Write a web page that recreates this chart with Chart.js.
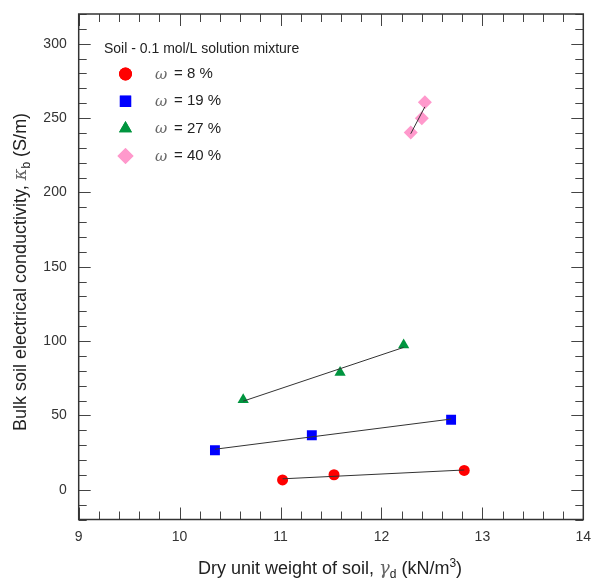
<!DOCTYPE html>
<html>
<head>
<meta charset="utf-8">
<script src="https://cdn.jsdelivr.net/npm/chart.js@4.4.0/dist/chart.umd.min.js"></script>
<style>
html, body { margin: 0; padding: 0; background: #fff; }
#wrap { width: 592px; height: 581px; }
</style>
</head>
<body>
<div id="wrap"><canvas id="chart"></canvas></div>
<script>
// ---------- data ----------
const seriesLabels = ['8 %', '19 %', '27 %', '40 %'];
const xW8  = [11.02, 11.53, 12.82];
const yW8  = [6.6, 10.1, 13.0];
const xW19 = [10.35, 11.31, 12.69];
const yW19 = [26.6, 36.7, 47.1];
const xW27 = [10.63, 11.59, 12.22];
const yW27 = [60.6, 78.9, 97.3];
const xW40 = [12.29, 12.40, 12.43];
const yW40 = [240.3, 249.8, 260.6];

const xTicks = [9, 10, 11, 12, 13, 14];
const yTicks = [0, 50, 100, 150, 200, 250, 300];

const FONT = '"Liberation Sans", Arial, sans-serif';

// ---------- helpers ----------
function pts(xs, ys) {
    return xs.map((x, i) => ({x: x, y: ys[i]}));
}

// least squares line, drawn between the smallest and largest x
function fitLine(xs, ys) {
    const n = xs.length;
    const mx = xs.reduce((a, b) => a + b, 0) / n;
    const my = ys.reduce((a, b) => a + b, 0) / n;
    let sxy = 0, sxx = 0;
    for (let i = 0; i < n; i++) {
        sxy += (xs[i] - mx) * (ys[i] - my);
        sxx += (xs[i] - mx) * (xs[i] - mx);
    }
    const b = sxy / sxx, a = my - b * mx;
    const x0 = Math.min(...xs), x1 = Math.max(...xs);
    return [{x: x0, y: a + b * x0}, {x: x1, y: a + b * x1}];
}

function fitSet(xs, ys) {
    return {
        type: 'line', data: fitLine(xs, ys), order: 0,
        borderColor: '#333', borderWidth: 1, pointRadius: 0, fill: false,
        isFit: true
    };
}

function markerSet(label, xs, ys, style, color, r) {
    return {
        type: 'scatter', label: label, data: pts(xs, ys), order: 1,
        pointStyle: style, pointRadius: r, pointHoverRadius: r,
        backgroundColor: color, borderColor: color, borderWidth: 0
    };
}

// draws a run of text pieces (regular / greek italic / sub / sup)
function drawRich(ctx, parts, x, y) {
    let w = 0;
    parts.forEach(p => { ctx.font = p.f; w += ctx.measureText(p.t).width; });
    let cx = x - w / 2;
    ctx.textAlign = 'left';
    ctx.textBaseline = 'alphabetic';
    parts.forEach(p => {
        ctx.font = p.f;
        ctx.fillStyle = p.c || '#222';
        ctx.fillText(p.t, cx, y + (p.dy || 0));
        cx += ctx.measureText(p.t).width;
    });
}

// no extra room for first/last labels, the layout padding alone sets the box
function noPad(s) {
    s.paddingLeft = 0; s.paddingRight = 0; s.paddingTop = 0; s.paddingBottom = 0;
}

// ---------- plugins ----------
const frame = {
    id: 'frame',
    beforeDatasetsDraw(chart) {
        const {ctx, chartArea: a, scales} = chart;
        const xs = scales.x, ys = scales.y;
        ctx.save();
        ctx.strokeStyle = '#444';
        ctx.lineWidth = 1;
        ctx.beginPath();
        for (let v = 9; v <= 14.001; v += 0.2) {
            const px = Math.round(xs.getPixelForValue(v)) + 0.5;
            const major = Math.abs(v - Math.round(v)) < 1e-6;
            const len = major ? 12 : 8;
            ctx.moveTo(px, a.bottom); ctx.lineTo(px, a.bottom - len);
            ctx.moveTo(px, a.top); ctx.lineTo(px, a.top + len);
        }
        for (let v = -20; v <= 320; v += 10) {
            const py = Math.round(ys.getPixelForValue(v)) + 0.5;
            const major = v % 50 === 0;
            const len = major ? 12 : 8;
            ctx.moveTo(a.left, py); ctx.lineTo(a.left + len, py);
            ctx.moveTo(a.right, py); ctx.lineTo(a.right - len, py);
        }
        ctx.stroke();
        ctx.lineWidth = 1.5;
        ctx.strokeStyle = '#333';
        ctx.strokeRect(a.left, a.top, a.right - a.left, a.bottom - a.top);
        ctx.restore();
    }
};

const decorations = {
    id: 'decorations',
    afterDraw(chart) {
        const ctx = chart.ctx;
        ctx.save();
        // legend box
        ctx.font = '14px ' + FONT;
        ctx.fillStyle = '#222';
        ctx.textAlign = 'left';
        ctx.textBaseline = 'middle';
        ctx.fillText('Soil - 0.1 mol/L solution mixture', 104, 49);
        const sets = chart.data.datasets.filter(d => !d.isFit);
        sets.forEach((d, i) => {
            const y = 74 + i * 27.3;
            ctx.fillStyle = d.backgroundColor;
            ctx.strokeStyle = d.borderColor;
            ctx.lineWidth = 0;
            Chart.helpers.drawPoint(ctx, {pointStyle: d.pointStyle, radius: d.pointRadius + 1, rotation: 0, borderWidth: 0}, 125.5, y);
            ctx.fill();
            ctx.textBaseline = 'middle';
            ctx.font = 'italic 15px "DejaVu Serif", serif';
            ctx.fillStyle = '#666';
            ctx.fillText('\u03c9', 155, y + 1);
            ctx.font = '15px ' + FONT;
            ctx.fillStyle = '#222';
            ctx.fillText('= ' + d.label, 174, y);
        });

        // axis titles
        const reg = '18px ' + FONT;
        const grk = 'italic 18px "DejaVu Serif", serif';
        const small = '12px ' + FONT;
        drawRich(ctx, [
            {t: 'Dry unit weight of soil, ', f: reg},
            {t: '\u03b3', f: grk, c: '#666'},
            {t: 'd', f: small, dy: 4},
            {t: ' (kN/m', f: reg},
            {t: '3', f: small, dy: -7},
            {t: ')', f: reg}
        ], 330, 574);

        ctx.translate(26, 272);
        ctx.rotate(-Math.PI / 2);
        drawRich(ctx, [
            {t: 'Bulk soil electrical conductivity, ', f: reg},
            {t: '\u03ba', f: grk, c: '#666'},
            {t: 'b', f: small, dy: 4},
            {t: ' (S/m)', f: reg}
        ], 0, 0);
        ctx.restore();
    }
};

// ---------- chart ----------
new Chart(document.getElementById('chart'), {
    data: {
        datasets: [
            markerSet(seriesLabels[0], xW8, yW8, 'circle', '#ff0000', 5.5),
            markerSet(seriesLabels[1], xW19, yW19, 'rect', '#0000ff', 7),
            markerSet(seriesLabels[2], xW27, yW27, 'triangle', '#00953f', 6.5),
            markerSet(seriesLabels[3], xW40, yW40, 'rectRot', '#ff99cc', 7),
            fitSet(xW8, yW8),
            fitSet(xW19, yW19),
            fitSet(xW27, yW27),
            fitSet(xW40, yW40)
        ]
    },
    options: {
        responsive: true,
        maintainAspectRatio: false,
        devicePixelRatio: 1,
        animation: false,
        layout: {padding: {top: 14, right: 8.7, left: 0, bottom: 0}},
        plugins: {legend: {display: false}, tooltip: {enabled: false}},
        scales: {
            x: {
                type: 'linear', min: 9, max: 14,
                afterFit: s => { s.height = 61.5; noPad(s); },
                afterBuildTicks: s => { s.ticks = xTicks.map(v => ({value: v})); },
                grid: {display: false, drawTicks: false},
                border: {display: false},
                ticks: {padding: 9, color: '#333', font: {size: 14, family: FONT}}
            },
            y: {
                type: 'linear', min: -20, max: 320,
                afterFit: s => { s.width = 78.7; noPad(s); },
                afterBuildTicks: s => { s.ticks = yTicks.map(v => ({value: v})); },
                grid: {display: false, drawTicks: false},
                border: {display: false},
                ticks: {padding: 12, color: '#333', font: {size: 14, family: FONT}}
            }
        }
    },
    plugins: [frame, decorations]
});
</script>
</body>
</html>
